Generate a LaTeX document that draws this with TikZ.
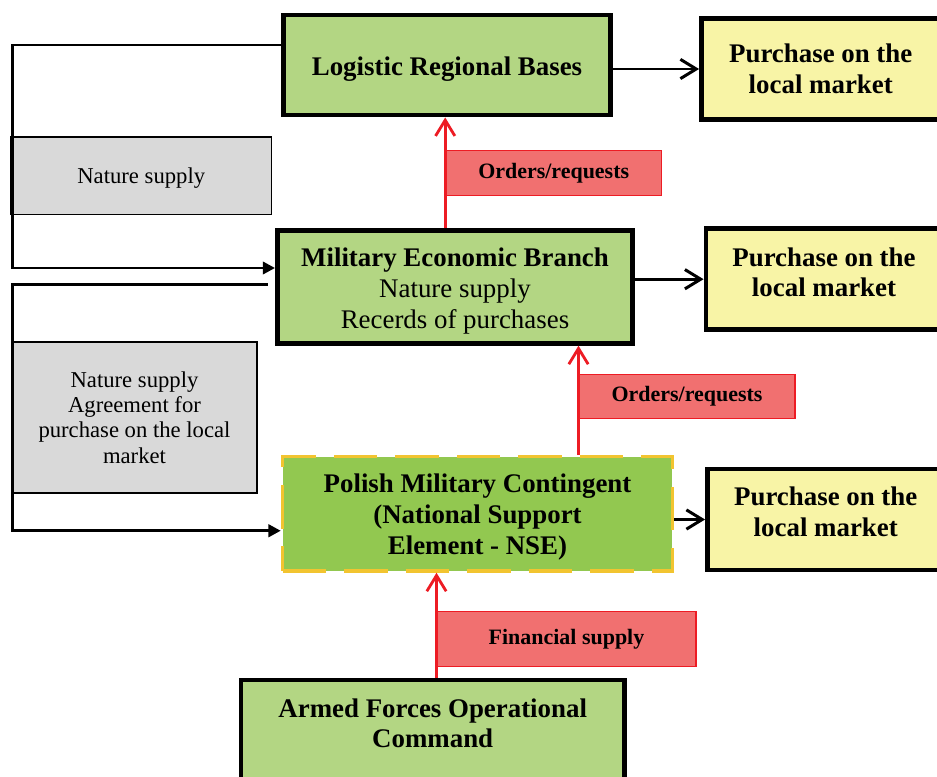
\documentclass[tikz,border=0pt]{standalone}
\usepackage{fontspec}
\setmainfont{Liberation Serif}
\usetikzlibrary{arrows.meta}

\definecolor{boxgreen}{RGB}{179,214,131}
\definecolor{nsegreen}{RGB}{146,200,80}
\definecolor{buyyellow}{RGB}{248,244,166}
\definecolor{notegray}{RGB}{217,217,217}
\definecolor{tagred}{RGB}{241,112,112}
\definecolor{linkred}{RGB}{237,28,36}
\definecolor{dashgold}{RGB}{242,196,48}

\tikzset{
    unit/.style={draw, line width=2.8pt, fill=boxgreen, align=center,
        font=\fontsize{15.3}{17.6}\selectfont},
    nse/.style={draw=dashgold, line width=2pt, dash pattern=on 25pt off 10pt,
        fill=nsegreen, align=center, font=\bfseries\fontsize{15.3}{17.6}\selectfont},
    buybox/.style={draw, line width=2.8pt, fill=buyyellow, align=center,
        font=\bfseries\fontsize{15.3}{17.6}\selectfont},
    notebox/.style={draw, line width=1.1pt, fill=notegray, align=center,
        font=\fontsize{12.9}{14.5}\selectfont},
    tag/.style={draw=linkred, line width=0.6pt, fill=tagred,
        font=\bfseries\fontsize{12.5}{15}\selectfont},
    link/.style={line width=1.7pt, -{Triangle[length=7pt,width=7pt]}},
    buy/.style={line width=1.7pt, -{Straight Barb[length=9pt,width=11pt]}},
    order/.style={linkred, line width=1.6pt, -{Straight Barb[length=9pt,width=11pt]}}
}

\begin{document}
\begin{tikzpicture}[x=0.02cm, y=-0.02cm]
    \clip (0,0) rectangle (937,777);

    % top row
    \node[unit, font=\bfseries\fontsize{15.3}{17.6}\selectfont, text height=15pt,
        minimum width=6.53cm, minimum height=2cm] (lrb) at (447,65) {Logistic Regional Bases};
    \node[buybox, minimum width=4.77cm, minimum height=2.02cm] (buy1) at (820.75,69) {Purchase on the\\local market};
    \node[notebox, minimum width=5.21cm, minimum height=1.55cm, text height=12pt] (sup1) at (141.25,175.75) {Nature supply};
    \node[tag, minimum width=4.32cm, minimum height=0.89cm] (ord1) at (553.7,173) {Orders/requests};

    % middle row
    \node[unit, minimum width=7.1cm, minimum height=2.25cm, text height=50pt] (meb) at (455,287)
        {\textbf{Military Economic Branch}\\Nature supply\\Recerds of purchases};
    \node[buybox, minimum width=4.72cm, minimum height=2.03cm, text depth=8pt] (buy2) at (824,279.2) {Purchase on the\\local market};
    \node[notebox, minimum width=4.9cm, minimum height=3.02cm] (sup2) at (134.5,417.5)
        {Nature supply\\Agreement for\\purchase on the local\\market};
    \node[tag, minimum width=4.32cm, minimum height=0.88cm] (ord2) at (687,396.3) {Orders/requests};

    % contingent
    \node[nse, minimum width=7.8cm, minimum height=2.29cm, text height=50pt] (pmc) at (477.5,513.75)
        {Polish Military Contingent\\(National Support\\Element - NSE)};
    \node[buybox, minimum width=4.73cm, minimum height=2.02cm, text depth=9pt] (buy3) at (825.75,519.5) {Purchase on the\\local market};
    \node[tag, minimum width=5.18cm, minimum height=1.11cm] (fin) at (566.5,638.8) {Financial supply};

    % command at the bottom
    \node[unit, font=\bfseries\fontsize{15.3}{17.6}\selectfont, anchor=north,
        minimum width=7.67cm, inner ysep=10.5pt, text depth=3cm] (afoc) at (432.7,677.5)
        {Armed Forces Operational\\Command};

    % purchases
    \draw[buy] (lrb.east |- buy1.west) -- (buy1.west);
    \draw[buy] (meb.east |- buy2.west) -- (buy2.west);
    \draw[buy] (pmc.east |- buy3.west) -- (buy3.west);

    % nature supply on the left
    \draw[link] ([yshift=0.4cm]lrb.west) -| ([xshift=0.04cm]sup1.west) |- ([yshift=0.38cm]meb.west);
    \draw[link] ([xshift=-0.15cm,yshift=0.05cm]meb.west) -| ([xshift=0.02cm]sup2.west) |- ([yshift=-0.34cm]pmc.west);

    % orders and money going up
    \draw[order] (ord1.west |- meb.north) -- (ord1.west |- lrb.south);
    \draw[order] (ord2.west |- pmc.north) -- (ord2.west |- meb.south);
    \draw[order] (fin.west |- afoc.north) -- (fin.west |- pmc.south);
\end{tikzpicture}
\end{document}
